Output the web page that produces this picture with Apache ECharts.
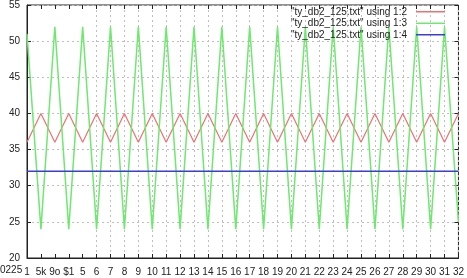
<!DOCTYPE html>
<html>
<head>
<meta charset="utf-8">
<script src="https://cdn.jsdelivr.net/npm/echarts@6/dist/echarts.min.js"></script>
<style>html,body{margin:0;padding:0;background:#fff}#c{width:467px;height:278px}</style>
</head>
<body>
<div id="c"></div>
<script>
var xValues = [1,2,3,4,5,6,7,8,9,10,11,12,13,14,15,16,17,18,19,20,21,22,23,24,25,26,27,28,29,30,31,32];
var xTickLabels = ["1","5k","9o","$1","5","6","7","8","9","10","11","12","13","14","15","16","17","18","19","20","21","22","23","24","25","26","27","28","29","30","31","32"];
var col2 = [36,40,36,40,36,40,36,40,36,40,36,40,36,40,36,40,36,40,36,40,36,40,36,40,36,40,36,40,36,40,36,40];
var col3 = [51,24,52,24,52,24,52,24,52,24,52,24,52,24,52,24,52,24,52,24,52,24,52,24,52,24,52,24,52,24,52,25];
var col4 = [32,32,32,32,32,32,32,32,32,32,32,32,32,32,32,32,32,32,32,32,32,32,32,32,32,32,32,32,32,32,32,32];
var seriesNames = ['"ty_db2_125.txt" using 1:2','"ty_db2_125.txt" using 1:3','"ty_db2_125.txt" using 1:4'];
var leftExtraLabel = "0225";

var FONT = "'Liberation Sans', Arial, sans-serif";
var chart = echarts.init(document.getElementById('c'), null, {renderer:'canvas'});
var gridDot = {color:'#c4bcc0', type:[2,3], width:1};
chart.setOption({
  animation:false,
  backgroundColor:'#fff',
  grid:{left:27, right:6, top:4, bottom:20, show:true, borderColor:'#222', borderWidth:1, backgroundColor:'transparent'},
  legend:{
    orient:'vertical', right:22, top:6, align:'right', itemGap:0, padding:0,
    itemWidth:29, itemHeight:1.5, icon:'rect',
    textStyle:{fontFamily:FONT, fontSize:10, color:'#222', lineHeight:11.5, padding:[0,4,0,0]},
    data:seriesNames
  },
  graphic:[{type:'text', left:0, top:265, style:{text:leftExtraLabel, font:"10px 'Liberation Sans', Arial, sans-serif", fill:'#222'}}],
  xAxis:[{
    type:'category', data:xValues, boundaryGap:false, position:'bottom',
    axisLine:{lineStyle:{color:'#222'}},
    axisTick:{inside:true, length:4, interval:0, lineStyle:{color:'#222'}},
    axisLabel:{interval:0, margin:9, fontFamily:FONT, fontSize:10, color:'#222',
      formatter:function(v,i){return xTickLabels[i];}},
    splitLine:{show:true, interval:function(i){return i>=5;}, lineStyle:gridDot}
  },{
    type:'category', data:xValues, boundaryGap:false, position:'top',
    axisLine:{show:false},
    axisTick:{inside:true, length:4, interval:0, lineStyle:{color:'#222'}},
    axisLabel:{show:false}, splitLine:{show:false}
  }],
  yAxis:[{
    type:'value', min:20, max:55, interval:5,
    axisLine:{show:true, lineStyle:{color:'#222'}},
    axisTick:{show:true, inside:true, length:4, lineStyle:{color:'#222'}},
    axisLabel:{margin:7, fontFamily:FONT, fontSize:10, color:'#222'},
    splitLine:{show:true, lineStyle:gridDot}
  },{
    type:'value', min:20, max:55, interval:5, position:'right',
    axisLine:{show:false},
    axisTick:{show:true, inside:true, length:4, lineStyle:{color:'#222'}},
    axisLabel:{show:false}, splitLine:{show:false}
  }],
  series:[
    {name:seriesNames[0], type:'line', data:col2, symbol:'none', lineStyle:{color:'#f07070', width:1.2}, itemStyle:{color:'#f07070'}},
    {name:seriesNames[1], type:'line', data:col3, symbol:'none', lineStyle:{color:'#6ee86e', width:1.5}, itemStyle:{color:'#6ee86e'}},
    {name:seriesNames[2], type:'line', data:col4, symbol:'none', lineStyle:{color:'#3c3cdc', width:1.3}, itemStyle:{color:'#3c3cdc'}}
  ]
});
</script>
</body>
</html>
